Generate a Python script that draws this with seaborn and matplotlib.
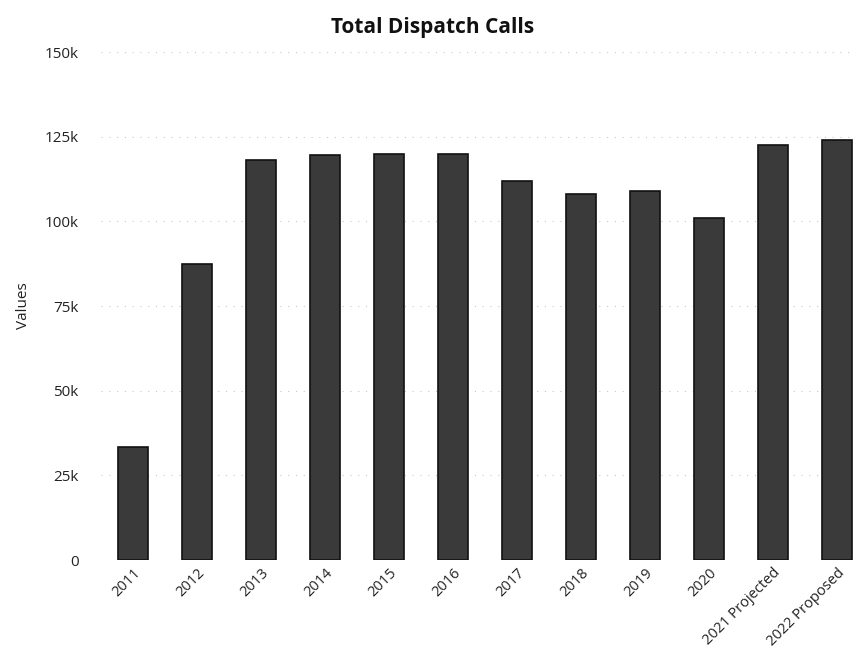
import matplotlib
matplotlib.use("Agg")
import matplotlib.pyplot as plt
import seaborn as sns
import pandas as pd

# values
years = ["2011", "2012", "2013", "2014", "2015", "2016", "2017", "2018",
         "2019", "2020", "2021 Projected", "2022 Proposed"]
calls = [33500, 87300, 118000, 119500, 119800, 119800, 112000, 108000,
         109000, 101000, 122500, 124000]
y_ticks = [0, 25000, 50000, 75000, 100000, 125000, 150000]
y_tick_labels = ["0", "25k", "50k", "75k", "100k", "125k", "150k"]

df = pd.DataFrame({"year": years, "calls": calls})

sns.set_theme(style="white")
plt.rcParams["font.family"] = ["Open Sans", "DejaVu Sans"]

fig = plt.figure(figsize=(8.56, 6.53), dpi=100)
ax = fig.add_axes([101 / 856, 93 / 653, 755 / 856, 508 / 653])

sns.barplot(data=df, x="year", y="calls", color="#3a3a3a", width=0.47,
            edgecolor="#111111", linewidth=1.2, saturation=1, ax=ax)

ax.set_xlim(-0.5, 11.3)
ax.set_ylim(0, 150000)
ax.set_yticks(y_ticks)
ax.set_yticklabels(y_tick_labels, fontsize=11, color="#222222")
ax.yaxis.grid(True, linestyle=(0, (1, 6)), color="#c8c8c8", linewidth=0.8)
ax.set_axisbelow(True)
ax.tick_params(axis="y", length=0, pad=16)
ax.tick_params(axis="x", length=0, pad=4)
plt.setp(ax.get_xticklabels(), rotation=45, ha="right", rotation_mode="anchor",
         fontsize=10.5, color="#222222")
ax.set_xlabel("")
ax.set_ylabel("Values", fontsize=11, labelpad=10, color="#222222")
sns.despine(ax=ax, left=True, bottom=True)

fig.text(433 / 856, 1 - 27 / 653, "Total Dispatch Calls", ha="center",
         va="center", fontsize=15, fontweight="bold", color="#111111")

fig.savefig("out.png", dpi=100)
